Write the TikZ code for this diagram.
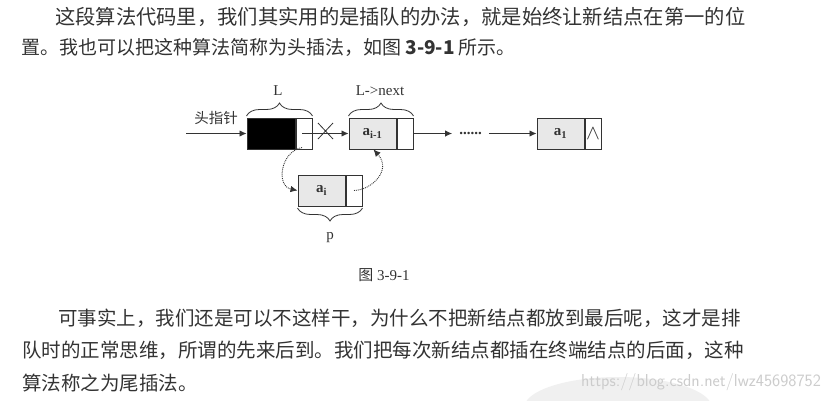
\documentclass[tikz,border=0pt]{standalone}
\usepackage{fontspec}
\setmainfont{Liberation Serif}
\newfontfamily\cjk{Noto Sans CJK SC}
\usepackage{xcolor}
\usetikzlibrary{arrows.meta, positioning, decorations.pathreplacing}
\definecolor{inktext}{gray}{0.2}
\definecolor{cellfill}{gray}{0.91}

\begin{document}
\begin{tikzpicture}[x=1pt,y=-1pt,node distance=0pt,>={Latex[length=7pt,width=6.5pt]},font=\fontsize{15}{17}\selectfont,text=inktext]
    \tikzstyle{para}=[anchor=west,inner sep=0pt,font=\cjk\fontsize{19.5}{22}\selectfont]
    \tikzstyle{datum}=[shape=rectangle,draw=inktext,line width=1pt,fill=cellfill,minimum width=47pt,minimum height=31pt,inner sep=0pt,font=\fontsize{15}{17}\bfseries\selectfont]
    \tikzstyle{link}=[shape=rectangle,draw=inktext,line width=1pt,fill=white,minimum width=16pt,minimum height=31pt,inner sep=0pt]
    \tikzstyle{curly}=[draw=inktext,line width=0.8pt,decorate,decoration={brace,amplitude=13pt}]
    \tikzstyle{wire}=[draw=inktext,line width=0.9pt,->]
    \tikzstyle{hop}=[draw=inktext,line width=0.9pt,densely dotted,->]

    \useasboundingbox[fill=white] (0,0) rectangle (831,400);
    \fill[gray!12] (618,408) ellipse (94pt and 31pt);

    % running text
    \node[para,font=\cjk\fontsize{20.3}{22}\selectfont] (T1) at (55,17) {这段算法代码里，我们其实用的是插队的办法，就是始终让新结点在第一的位};
    \node[para,font=\cjk\fontsize{19}{22}\selectfont] (T2) at (21,47) {置。我也可以把这种算法简称为头插法，如图 \textbf{3-9-1} 所示。};
    \node[para] (T3) at (58,318) {可事实上，我们还是可以不这样干，为什么不把新结点都放到最后呢，这才是排};
    \node[para] (T4) at (22,350) {队时的正常思维，所谓的先来后到。我们把每次新结点都插在终端结点的后面，这种};
    \node[para] (T5) at (22,383) {算法称之为尾插法。};

    % list cells
    \node[datum, fill=black, minimum width=48pt] (A0) at (271,133.5) {};
    \node[link, right=0pt of A0] (A1) {};
    \node[datum] (B0) at (372.5,133.5) {a\textsubscript{i-1}};
    \node[link, right=0pt of B0] (B1) {};
    \node[datum] (C0) at (560.5,133.5) {a\textsubscript{1}};
    \node[link, right=0pt of C0, font=\fontsize{20}{22}\selectfont] (C1) {$\wedge$};
    \node[datum] (D0) at (321.5,190.5) {a\textsubscript{i}};
    \node[link, right=0pt of D0] (D1) {};

    % labels
    \node[inner sep=0pt] (LL) at (278,91) {L};
    \node[inner sep=0pt] (LN) at (380,91) {L->next};
    \node[inner sep=0pt] (LP) at (330,238) {p};
    \node[inner sep=0pt,font=\cjk\fontsize{14.5}{16}\selectfont] (LH) at (216,118) {头指针};
    \node[inner sep=0pt,font=\fontsize{15}{17}\selectfont] (CAP) at (384,275) {{\cjk 图} 3-9-1};
    \node[inner ysep=0pt,inner xsep=7pt,font=\bfseries\fontsize{15}{17}\selectfont] (DOTS) at (470.5,133.5) {......};
    \node[inner sep=0pt,font=\sffamily\fontsize{17.3}{19}\selectfont,text=gray!40] (MARK) at (701,382) {https://blog.csdn.net/lwz45698752};

    % free ends
    \coordinate (H0) at (186,133.5);
    \coordinate (S0) at (302,133.5);
    \coordinate (XA) at (318,123);
    \coordinate (XB) at (333,139);
    \coordinate (XC) at (333,123);
    \coordinate (XD) at (318,139);

    \path
    (H0) edge[wire] (A0)
    (S0) edge[wire] (B0)
    (B1) edge[wire] (DOTS)
    (DOTS) edge[wire] (C0);

    \draw[draw=inktext,line width=0.8pt] (XA) -- (XB) (XC) -- (XD);

    \draw[hop] ([xshift=-2pt,yshift=2pt]A1.south) .. controls (280,152) and (276,186) .. (D0.west);
    \draw[hop] (D1.center) .. controls (372,190) and (392,170) .. ([xshift=1pt]B0.south);

    \draw[curly] ([yshift=1.5pt]A0.north west) -- ([yshift=1.5pt]A1.north east);
    \draw[curly] ([yshift=1.5pt]B0.north west) -- ([yshift=1.5pt]B1.north east);
    \draw[curly] ([yshift=-1.5pt]D1.south east) -- ([yshift=-1.5pt]D0.south west);
\end{tikzpicture}
\end{document}
